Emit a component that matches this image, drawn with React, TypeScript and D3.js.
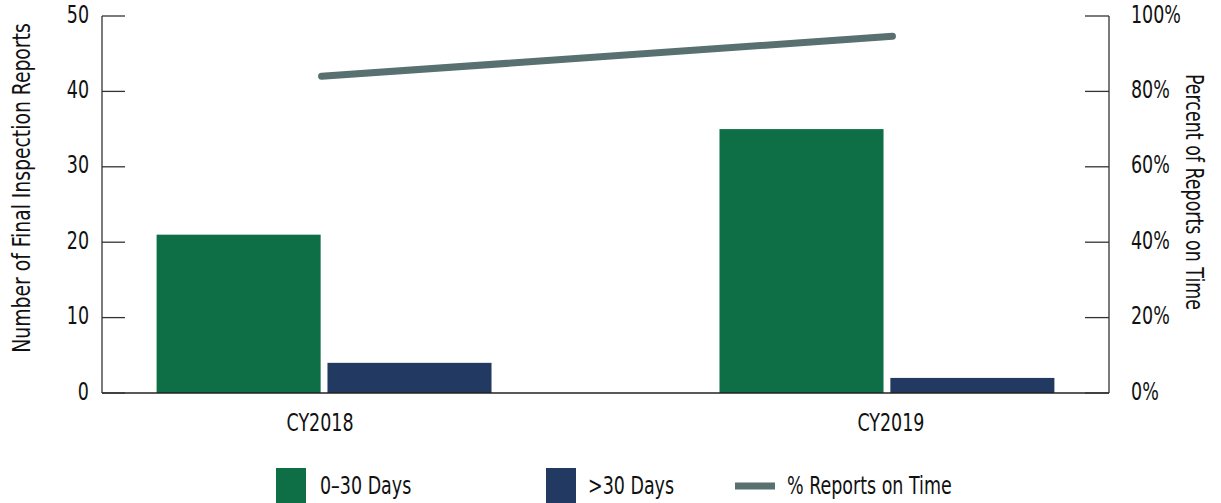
import React from "react";
import * as d3 from "d3";

const categories = ["CY2018", "CY2019"];
const onTime = [21, 35];
const late = [4, 2];
const pctOnTime = [84, 94.6];
const leftTicks = [0, 10, 20, 30, 40, 50];
const rightTicks = [0, 20, 40, 60, 80, 100];
const seriesNames = ["0–30 Days", ">30 Days", "% Reports on Time"];

const W = 1221;
const H = 503;
const FONT = "'DejaVu Sans Condensed', 'Liberation Sans Narrow', sans-serif";
const GREEN = "#0e6e46";
const NAVY = "#223a62";
const LINE = "#587070";
const AXIS = "#333";
const SX = 0.81;

// condensed text: DejaVu Condensed squeezed horizontally
function T({ x, y, rot = 0, sx = SX, anchor = "start", size = 24, children }: any) {
  return (
    <text
      transform={`translate(${x},${y}) rotate(${rot}) scale(${sx},1)`}
      textAnchor={anchor}
      dominantBaseline="middle"
      fontSize={size}
      fill="#111"
    >
      {children}
    </text>
  );
}

export default function App() {
  const left = 102;
  const right = 1109;
  const top = 16;
  const bottom = 393;

  const x = d3.scaleBand<string>()
    .domain(categories)
    .range([left, right])
    .paddingInner(0.405)
    .paddingOuter(0.097);

  const sub = d3.scaleBand<string>()
    .domain(["a", "b"])
    .range([0, x.bandwidth()])
    .paddingInner(0.04);

  // category centres used by labels and the line
  const px = d3.scalePoint<string>()
    .domain(categories)
    .range([left, right])
    .padding(0.382);

  const yL = d3.scaleLinear().domain([0, 50]).range([bottom, top]);
  const yR = d3.scaleLinear().domain([0, 100]).range([bottom, top]);

  const line = d3.line<number>()
    .x((_, i) => (px(categories[i]) as number) + 1.5)
    .y((d) => yR(d));

  return (
    <svg width={W} height={H} style={{ position: "absolute", left: 0, top: 0, fontFamily: FONT }}>
      {/* bars */}
      {categories.map((c, i) => (
        <g key={c} transform={`translate(${x(c)},0)`}>
          <rect x={sub("a")} y={yL(onTime[i])} width={sub.bandwidth()} height={yL(0) - yL(onTime[i])} fill={GREEN} />
          <rect x={sub("b")} y={yL(late[i])} width={sub.bandwidth()} height={yL(0) - yL(late[i])} fill={NAVY} />
        </g>
      ))}

      {/* axes */}
      <line x1={left} x2={left} y1={top} y2={bottom} stroke={AXIS} strokeWidth={1.3} />
      <line x1={right} x2={right} y1={top} y2={bottom} stroke={AXIS} strokeWidth={1.3} />
      <line x1={left} x2={right} y1={bottom} y2={bottom} stroke="#222" strokeWidth={1.5} />
      {leftTicks.map((t) => (
        <g key={"l" + t}>
          <line x1={left} x2={left + 23} y1={yL(t)} y2={yL(t)} stroke={AXIS} strokeWidth={1.3} />
          <T x={left - 13} y={yL(t)} anchor="end">{t}</T>
        </g>
      ))}
      {rightTicks.map((t) => (
        <g key={"r" + t}>
          <line x1={right - 24} x2={right} y1={yR(t)} y2={yR(t)} stroke={AXIS} strokeWidth={1.3} />
          <T x={right + 22} y={yR(t)}>{t}%</T>
        </g>
      ))}
      {categories.map((c) => (
        <T key={"x" + c} x={px(c)} y={424} anchor="middle">{c}</T>
      ))}

      <T x={23} y={188} rot={-90} sx={0.87} anchor="middle">Number of Final Inspection Reports</T>
      <T x={1193} y={192} rot={90} anchor="middle">Percent of Reports on Time</T>

      {/* line */}
      <path d={line(pctOnTime) as string} fill="none" stroke={LINE} strokeWidth={7} strokeLinecap="round" />

      {/* legend */}
      <rect x={276} y={468} width={30} height={36} fill={GREEN} />
      <T x={320} y={487}>{seriesNames[0]}</T>
      <rect x={546} y={468} width={30} height={36} fill={NAVY} />
      <T x={588} y={487}>{seriesNames[1]}</T>
      <line x1={735} x2={775} y1={486} y2={486} stroke={LINE} strokeWidth={7} />
      <T x={787} y={487}>{seriesNames[2]}</T>
    </svg>
  );
}
